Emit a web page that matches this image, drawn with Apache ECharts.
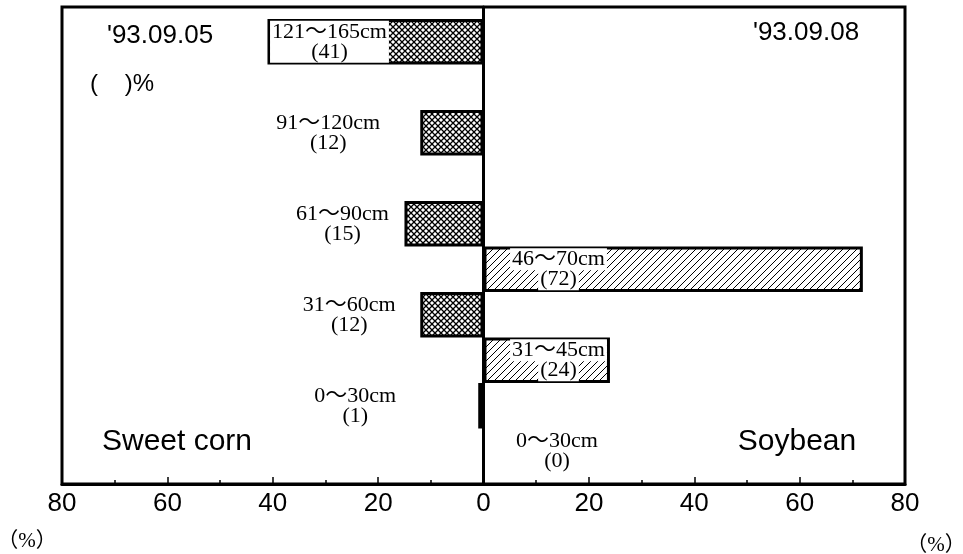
<!DOCTYPE html>
<html>
<head>
<meta charset="utf-8">
<script src="https://cdn.jsdelivr.net/npm/echarts@6/dist/echarts.min.js"></script>
<style>html,body{margin:0;padding:0;background:#fff}#c{width:963px;height:554px}</style>
</head>
<body>
<div id="c"></div>
<script>
// ---- data ----
const cornClasses = ['0～30cm', '31～60cm', '61～90cm', '91～120cm', '121～165cm'];
const cornValues  = [1, 12, 15, 12, 41];
const soyClasses  = ['0～30cm', '31～45cm', '46～70cm'];
const soyValues   = [0, 24, 72];
// row order on the hidden category axis, bottom to top ('' = empty row)
const rowOrder = ['soy:0～30cm', 'corn:0～30cm', 'soy:31～45cm', 'corn:31～60cm', 'soy:46～70cm',
                  'corn:61～90cm', '', 'corn:91～120cm', '', 'corn:121～165cm'];
const cornDate = "'93.09.05";
const soyDate  = "'93.09.08";

// ---- styling ----
const SERIF = "'Liberation Serif','Noto Sans CJK JP',serif";
const SANS = "'Liberation Sans',Arial,sans-serif";
const cornLabelDist = {'0～30cm': 123, '31～60cm': 71, '61～90cm': 62, '91～120cm': 92};

function crossHatch() {
  const c = document.createElement('canvas'); c.width = 6; c.height = 6;
  const g = c.getContext('2d');
  g.fillStyle = '#fff'; g.fillRect(0, 0, 6, 6);
  g.strokeStyle = '#000'; g.lineWidth = 1.3;
  g.beginPath(); g.moveTo(0, 0); g.lineTo(6, 6); g.moveTo(0, 6); g.lineTo(6, 0); g.stroke();
  return c;
}
function diagHatch() {
  const c = document.createElement('canvas'); c.width = 7; c.height = 7;
  const g = c.getContext('2d');
  g.fillStyle = '#fff'; g.fillRect(0, 0, 7, 7);
  g.strokeStyle = '#000'; g.lineWidth = 1;
  g.beginPath(); g.moveTo(0, 7); g.lineTo(7, 0);
  g.moveTo(-1, 1); g.lineTo(1, -1); g.moveTo(6, 8); g.lineTo(8, 6); g.stroke();
  return c;
}
const cornFill = {image: crossHatch(), repeat: 'repeat'};
const soyFill = {image: diagHatch(), repeat: 'repeat'};

const baseLabel = {show: true, color: '#000', fontFamily: SERIF, fontSize: 22, lineHeight: 20, align: 'center', verticalAlign: 'middle'};

const cornData = rowOrder.map(r => {
  if (!r.startsWith('corn:')) return '-';
  const cls = r.slice(5), i = cornClasses.indexOf(cls), v = cornValues[i];
  const txt = cls + '\n(' + v + ')';
  if (i === cornClasses.length - 1) {
    return {value: -v, label: Object.assign({}, baseLabel, {position: 'insideLeft', distance: 62,
      formatter: txt, backgroundColor: '#fff', padding: [1, 2, 1, 2]})};
  }
  return {value: -v, label: Object.assign({}, baseLabel, {position: 'left', distance: cornLabelDist[cls], formatter: txt})};
});
const soyData = rowOrder.map(r => {
  if (!r.startsWith('soy:')) return '-';
  const cls = r.slice(4), i = soyClasses.indexOf(cls), v = soyValues[i];
  return {value: v, label: Object.assign({}, baseLabel, {position: 'insideLeft', distance: 75,
    formatter: '{b|' + cls + '}\n{b|(' + v + ')}',
    rich: {b: {backgroundColor: '#fff', fontFamily: SERIF, fontSize: 22, lineHeight: 20, color: '#000', padding: [0, 2]}}})};
});

const chart = echarts.init(document.getElementById('c'), null, {renderer: 'canvas'});
chart.setOption({
  animation: false,
  backgroundColor: '#fff',
  grid: [
    {left: 62, right: 58, top: 7, bottom: 70, show: true, borderColor: '#000', borderWidth: 3, backgroundColor: 'transparent'},
    {left: 62, right: 58, top: 19, bottom: 80}
  ],
  xAxis: [
    {gridIndex: 0, type: 'value', min: -80, max: 80, interval: 20,
     axisLine: {show: true, lineStyle: {color: '#000', width: 3}},
     axisTick: {show: true, inside: true, length: 7, lineStyle: {color: '#000', width: 1.5}},
     minorTick: {show: true, splitNumber: 2, length: 4, lineStyle: {color: '#000', width: 1.5}},
     splitLine: {show: false},
     axisLabel: {formatter: v => String(Math.abs(v)), color: '#000', fontFamily: SANS, fontSize: 26, margin: 7}},
    {gridIndex: 1, type: 'value', min: -80, max: 80, show: false, splitLine: {show: false}}
  ],
  yAxis: [
    {gridIndex: 0, type: 'value', min: 0, max: 1,
     axisLine: {show: true, onZero: true, lineStyle: {color: '#000', width: 3}},
     axisTick: {show: false}, axisLabel: {show: false}, splitLine: {show: false}},
    {gridIndex: 1, type: 'category', data: rowOrder, show: false}
  ],
  series: [
    {name: 'Sweet corn', type: 'bar', xAxisIndex: 1, yAxisIndex: 1, data: cornData,
     barCategoryGap: '0%', barGap: '-100%', z: 3,
     itemStyle: {color: cornFill, borderColor: '#000', borderWidth: 3}},
    {name: 'Soybean', type: 'bar', xAxisIndex: 1, yAxisIndex: 1, data: soyData,
     barCategoryGap: '0%', barGap: '-100%', z: 3,
     itemStyle: {color: soyFill, borderColor: '#000', borderWidth: 3}}
  ],
  graphic: [
    {type: 'text', x: 160, y: 36, z: 10, style: {text: cornDate, font: '26px ' + SANS, fill: '#000', textAlign: 'center', textVerticalAlign: 'middle'}},
    {type: 'text', x: 806, y: 33, z: 10, style: {text: soyDate, font: '26px ' + SANS, fill: '#000', textAlign: 'center', textVerticalAlign: 'middle'}},
    {type: 'text', x: 90, y: 84, z: 10, style: {text: '(    )%', font: '24px ' + SANS, fill: '#000', textAlign: 'left', textVerticalAlign: 'middle'}},
    {type: 'text', x: 177, y: 442, z: 10, style: {text: 'Sweet corn', font: '30px ' + SANS, fill: '#000', textAlign: 'center', textVerticalAlign: 'middle'}},
    {type: 'text', x: 797, y: 442, z: 10, style: {text: 'Soybean', font: '30px ' + SANS, fill: '#000', textAlign: 'center', textVerticalAlign: 'middle'}},
    {type: 'text', x: 27, y: 541, z: 10, style: {text: '（%）', font: '21px ' + SERIF, fill: '#000', textAlign: 'center', textVerticalAlign: 'middle'}},
    {type: 'text', x: 936, y: 545, z: 10, style: {text: '（%）', font: '21px ' + SERIF, fill: '#000', textAlign: 'center', textVerticalAlign: 'middle'}}
  ]
});
</script>
</body>
</html>
